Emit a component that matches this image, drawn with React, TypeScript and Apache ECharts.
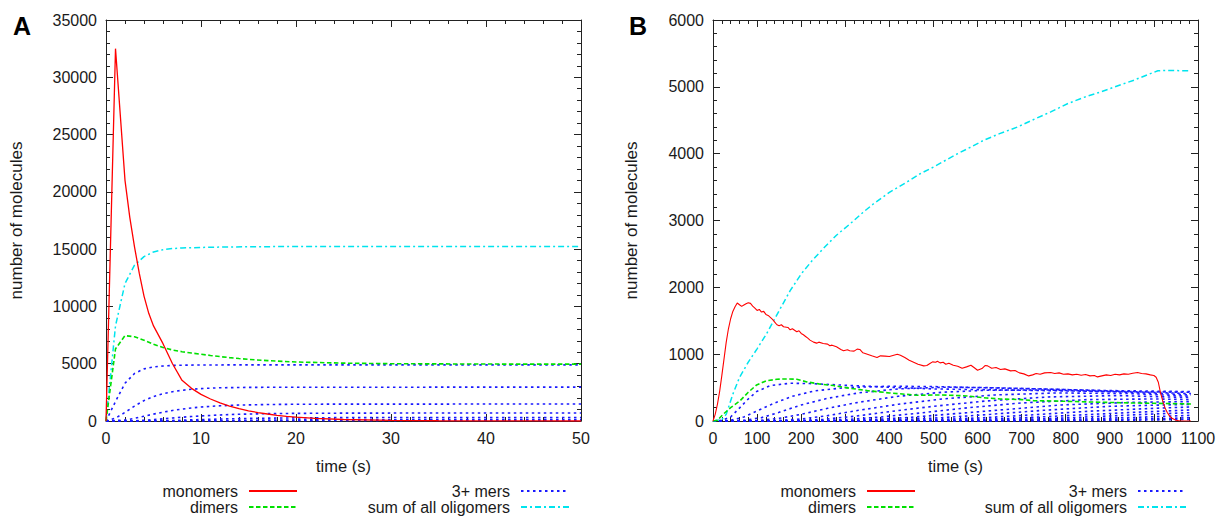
import React, { useEffect, useRef } from "react";
import * as echarts from "echarts";

type P = [number, number];

// ---------- Panel A (0–50 s) ----------
const monomersA: P[] = [
  [0, 0], [1, 32500], [2, 21000], [2.5, 17800], [3, 15200], [3.5, 12900], [4, 10900], [4.5, 9400],
  [5, 8300], [6, 6750], [7, 5000], [8, 3550], [9, 2850], [10, 2320], [11, 1920], [12, 1580],
  [13, 1300], [14, 1080], [15, 890], [16, 740], [17, 610], [18, 500], [19, 410], [20, 340],
  [22, 230], [25, 130], [30, 50], [35, 20], [40, 8], [45, 3], [50, 0],
];
const dimersA: P[] = [
  [0, 0], [1, 6300], [2, 7450], [3, 7350], [4, 7050], [5, 6700], [6, 6420], [7, 6200], [8, 6050],
  [9, 5930], [10, 5830], [11, 5720], [12, 5620], [13, 5530], [14, 5450], [15, 5380], [17, 5270],
  [20, 5150], [25, 5050], [30, 5000], [40, 4970], [50, 4960],
];
const sumA: P[] = [
  [0, 0], [1, 8300], [2, 12000], [3, 13600], [4, 14350], [5, 14750], [6, 14950], [7, 15050],
  [8, 15100], [10, 15150], [12, 15180], [15, 15210], [20, 15230], [30, 15240], [50, 15240],
];
const trimersA: P[] = [
  [0, 0], [1, 1700], [2, 3300], [3, 4150], [4, 4550], [5, 4720], [6, 4800], [7, 4850], [8, 4870],
  [10, 4890], [15, 4900], [50, 4900],
];
const tetramersA: P[] = [
  [0, 0], [1, 250], [2, 750], [3, 1300], [4, 1780], [5, 2130], [6, 2380], [7, 2560], [8, 2680],
  [9, 2770], [10, 2830], [12, 2900], [15, 2935], [20, 2950], [50, 2955],
];
const pentamersA: P[] = [
  [0, 0], [2, 80], [3, 230], [4, 420], [5, 600], [6, 770], [7, 920], [8, 1040], [9, 1140],
  [10, 1220], [12, 1330], [14, 1390], [17, 1440], [20, 1460], [25, 1475], [50, 1480],
];
const hexamersA: P[] = [
  [0, 0], [3, 20], [4, 60], [5, 120], [6, 190], [7, 260], [8, 330], [9, 390], [10, 440],
  [12, 530], [14, 590], [17, 640], [20, 665], [25, 685], [30, 692], [50, 697],
];
const heptamersA: P[] = [
  [0, 0], [5, 15], [7, 50], [9, 100], [11, 150], [13, 195], [16, 240], [20, 275], [25, 295],
  [35, 305], [50, 308],
];
const octamersA: P[] = [
  [0, 0], [7, 5], [10, 20], [13, 45], [16, 70], [20, 95], [25, 110], [35, 120], [50, 122],
];
const nonamersA: P[] = [
  [0, 0], [10, 3], [14, 12], [18, 22], [24, 32], [35, 40], [50, 42],
];
const higherA: P[][] = [trimersA, tetramersA, pentamersA, hexamersA, heptamersA, octamersA, nonamersA];

// ---------- Panel B (0–1100 s) ----------
const monomersB: P[] = [
  [0, 0], [5, 100], [10, 250], [15, 440], [20, 680], [25, 930], [30, 1180], [35, 1380], [40, 1530],
  [45, 1640], [50, 1710], [55, 1765], [60, 1740], [65, 1715], [70, 1735], [75, 1755], [80, 1770],
  [85, 1760], [90, 1720], [95, 1690], [100, 1655], [105, 1670], [110, 1630], [115, 1640], [120, 1595],
  [125, 1580], [130, 1550], [135, 1520], [140, 1480], [145, 1440], [150, 1425], [155, 1440],
  [160, 1410], [170, 1400], [175, 1365], [180, 1380], [190, 1335], [195, 1350], [200, 1310],
  [205, 1290], [210, 1265], [215, 1240], [220, 1210], [228, 1180], [235, 1165], [240, 1180],
  [250, 1160], [260, 1150], [265, 1125], [270, 1135], [280, 1110], [290, 1070], [296, 1050],
  [305, 1065], [310, 1050], [320, 1045], [327, 1075], [333, 1070], [340, 1020], [350, 1000],
  [360, 975], [372, 950], [380, 975], [390, 970], [400, 965], [410, 985], [418, 1000], [425, 985],
  [435, 950], [445, 910], [455, 880], [465, 850], [478, 825], [485, 830], [492, 860], [498, 885],
  [505, 880], [509, 895], [515, 870], [522, 880], [528, 850], [535, 865], [545, 835], [555, 820],
  [565, 790], [575, 810], [585, 835], [592, 800], [600, 760], [610, 785], [617, 830], [623, 825],
  [632, 790], [642, 800], [652, 770], [662, 780], [675, 750], [685, 755], [695, 720], [705, 705],
  [716, 675], [725, 690], [733, 710], [742, 700], [752, 720], [766, 725], [775, 710], [785, 720],
  [795, 700], [805, 705], [815, 690], [825, 700], [835, 685], [845, 695], [855, 675], [865, 680],
  [872, 660], [882, 675], [892, 690], [902, 680], [912, 700], [922, 690], [932, 705], [942, 700],
  [952, 715], [963, 725], [972, 710], [982, 705], [992, 690], [1000, 680], [1005, 655], [1010, 580],
  [1015, 420], [1020, 300], [1025, 200], [1030, 130], [1035, 80], [1040, 45], [1050, 12],
  [1060, 0], [1084, 0],
];
const dimersB: P[] = [
  [0, 0], [10, 10], [23, 100], [40, 200], [61, 300], [80, 430], [99, 540], [120, 600], [145, 625],
  [170, 630], [190, 625], [213, 585], [240, 555], [273, 530], [310, 490], [350, 455], [400, 420],
  [464, 385], [520, 390], [577, 375], [620, 345], [652, 330], [700, 320], [727, 305], [800, 295],
  [880, 280], [950, 270], [1000, 265], [1084, 255],
];
const sumB: P[] = [
  [0, 0], [20, 20], [30, 100], [45, 400], [60, 650], [80, 880], [100, 1080], [121, 1300],
  [150, 1650], [175, 1950], [200, 2200], [225, 2400], [250, 2580], [280, 2780], [311, 2950],
  [340, 3120], [364, 3250], [400, 3420], [441, 3580], [470, 3700], [500, 3800], [530, 3910],
  [555, 4000], [585, 4100], [614, 4200], [650, 4300], [691, 4400], [730, 4520], [766, 4625],
  [805, 4750], [840, 4840], [880, 4925], [920, 5020], [955, 5100], [985, 5180], [1009, 5240],
  [1030, 5245], [1084, 5240],
];
const b3: P[] = [[0, 0], [20, 10], [40, 60], [61, 200], [80, 330], [99, 440], [130, 530], [175, 565], [220, 560], [300, 535], [400, 505], [500, 480], [600, 470], [700, 460], [800, 450], [900, 440], [1000, 435], [1084, 430]];
const b4: P[] = [[0, 0], [40, 10], [70, 60], [100, 150], [140, 270], [180, 370], [230, 450], [300, 500], [400, 520], [500, 515], [600, 500], [700, 485], [800, 470], [900, 455], [1084, 440]];
const b5: P[] = [[0, 0], [70, 10], [110, 50], [150, 130], [200, 240], [260, 340], [330, 420], [420, 480], [520, 505], [620, 500], [750, 480], [900, 450], [1084, 410]];
const b6: P[] = [[0, 0], [100, 5], [150, 40], [200, 100], [260, 190], [330, 280], [420, 370], [520, 430], [620, 460], [750, 465], [900, 440], [1084, 390]];
const b7: P[] = [[0, 0], [140, 5], [200, 30], [260, 80], [330, 160], [420, 250], [520, 330], [640, 390], [780, 420], [950, 410], [1084, 370]];
const b8: P[] = [[0, 0], [180, 5], [250, 25], [320, 70], [400, 140], [500, 220], [620, 300], [760, 360], [920, 380], [1084, 350]];
const b9: P[] = [[0, 0], [230, 5], [300, 20], [380, 60], [470, 120], [580, 200], [700, 270], [850, 320], [1000, 330], [1084, 320]];
const b10: P[] = [[0, 0], [280, 5], [360, 20], [450, 55], [550, 110], [660, 170], [790, 240], [950, 280], [1084, 290]];
const b11: P[] = [[0, 0], [330, 4], [420, 18], [520, 50], [630, 100], [750, 160], [900, 220], [1084, 250]];
const b12: P[] = [[0, 0], [390, 4], [490, 16], [600, 45], [720, 90], [850, 145], [1000, 190], [1084, 210]];
const b13: P[] = [[0, 0], [450, 3], [560, 14], [680, 40], [800, 80], [940, 125], [1084, 165]];
const b14: P[] = [[0, 0], [520, 3], [640, 12], [760, 35], [880, 70], [1000, 105], [1084, 125]];
const b15: P[] = [[0, 0], [600, 3], [720, 10], [840, 30], [960, 55], [1084, 85]];
const b16: P[] = [[0, 0], [680, 2], [800, 8], [920, 22], [1040, 40], [1084, 50]];
const b17: P[] = [[0, 0], [760, 2], [880, 7], [1000, 16], [1084, 25]];
const higherB: P[][] = [b3, b4, b5, b6, b7, b8, b9, b10, b11, b12, b13, b14, b15, b16, b17];

// ---------- axes ----------
const xTicksA = { min: 0, max: 50, interval: 10 };
const yTicksA = { min: 0, max: 35000, interval: 5000 };
const xTicksB = { min: 0, max: 1100, interval: 100 };
const yTicksB = { min: 0, max: 6000, interval: 1000 };

const NAMES = { mono: "monomers", di: "dimers", hi: "3+ mers", sum: "sum of all oligomers" };
const X_TITLE = "time (s)";
const Y_TITLE = "number of molecules";

const FONT = "'Liberation Sans', Arial, Helvetica, sans-serif";
const TXT = "#1a1a1a";
const AX = "#222";

const RED = "#ff0000";
const GREEN = "#00e000";
const BLUE = "#1a1aff";
const CYAN = "#00e4ee";

const X_NAME_STYLE = { fontSize: 16.5, color: TXT, fontFamily: FONT };
const Y_NAME_STYLE = { fontSize: 17, color: TXT, fontFamily: FONT };

function axisBase(t: { min: number; max: number; interval: number }, gridIndex: number) {
  return {
    type: "value" as const,
    gridIndex,
    min: t.min,
    max: t.max,
    interval: t.interval,
    splitLine: { show: false },
    axisLine: { show: true, onZero: false, lineStyle: { color: AX, width: 1 } },
    axisTick: { show: true, inside: true, length: 7, lineStyle: { color: AX } },
    minorTick: { show: true, splitNumber: 5, length: 4, lineStyle: { color: AX } },
    axisLabel: {
      show: true, fontSize: 16, color: TXT, fontFamily: FONT, margin: 9,
      formatter: (v: number) => String(v),
    },
    nameMoveOverlap: false,
  };
}

function mkLine(name: string, data: P[], color: string, dash: any, width: number, idx: number, z = 2) {
  return {
    type: "line" as const,
    name,
    data,
    xAxisIndex: idx,
    yAxisIndex: idx,
    symbol: "none",
    showSymbol: false,
    smooth: false,
    silent: true,
    z,
    lineStyle: { color, width, type: dash },
    itemStyle: { color },
  };
}

function legendAt(names: string[], right: number) {
  return {
    data: names,
    orient: "vertical" as const,
    align: "right" as const,
    right,
    top: 483,
    bottom: 0,
    padding: 0,
    itemGap: 0,
    itemWidth: 48,
    itemHeight: 16,
    selectedMode: false,
    itemStyle: { color: "transparent", borderColor: "transparent", borderWidth: 0, opacity: 0 },
    textStyle: { fontSize: 16, color: TXT, fontFamily: FONT, lineHeight: 16, padding: [0, 6, 0, 0] },
  };
}

export default function App() {
  const ref = useRef<HTMLDivElement>(null);
  useEffect(() => {
    if (!ref.current) return;
    const chart = echarts.init(ref.current, null, { renderer: "svg" });

    const xA = axisBase(xTicksA, 0);
    const yA = axisBase(yTicksA, 0);
    const xB = axisBase(xTicksB, 1);
    const yB = axisBase(yTicksB, 1);

    const dotted = [2.5, 3.5];
    const dashed = [4.5, 2.5];
    const dashDot = [6, 3, 2, 3];

    const series: any[] = [];
    // Panel A
    higherA.forEach((d) => series.push(mkLine(NAMES.hi, d, BLUE, dotted, 1.6, 0, 1)));
    series.push(mkLine(NAMES.sum, sumA, CYAN, dashDot, 1.5, 0, 2));
    series.push(mkLine(NAMES.di, dimersA, GREEN, dashed, 1.6, 0, 3));
    series.push(mkLine(NAMES.mono, monomersA, RED, "solid", 1.3, 0, 4));
    // Panel B
    higherB.forEach((d) => series.push(mkLine(NAMES.hi, d, BLUE, dotted, 1.6, 2, 1)));
    series.push(mkLine(NAMES.sum, sumB, CYAN, dashDot, 1.5, 2, 2));
    series.push(mkLine(NAMES.di, dimersB, GREEN, dashed, 1.6, 2, 3));
    series.push(mkLine(NAMES.mono, monomersB, RED, "solid", 1.1, 2, 4));

    chart.setOption({
      animation: false,
      backgroundColor: "#ffffff",
      textStyle: { fontFamily: FONT },
      title: [
        { text: "A", left: 8, top: 8, textStyle: { fontSize: 25, fontWeight: "bold", color: "#000", fontFamily: FONT } },
        { text: "B", left: 624, top: 8, textStyle: { fontSize: 25, fontWeight: "bold", color: "#000", fontFamily: FONT } },
      ],
      grid: [
        { left: 106, top: 20, width: 475, height: 401, outerBoundsMode: "none", containLabel: false },
        { left: 713, top: 20, width: 485, height: 401, outerBoundsMode: "none", containLabel: false },
      ],
      xAxis: [
        { ...xA, position: "bottom", name: X_TITLE, nameLocation: "middle", nameGap: 36, nameTextStyle: X_NAME_STYLE },
        { ...xA, position: "top", axisLabel: { show: false } },
        { ...xB, position: "bottom", name: X_TITLE, nameLocation: "middle", nameGap: 36, nameTextStyle: X_NAME_STYLE },
        { ...xB, position: "top", axisLabel: { show: false } },
      ],
      yAxis: [
        { ...yA, position: "left", name: Y_TITLE, nameLocation: "middle", nameGap: 81, nameTextStyle: Y_NAME_STYLE },
        { ...yA, position: "right", axisLabel: { show: false } },
        { ...yB, position: "left", name: Y_TITLE, nameLocation: "middle", nameGap: 73, nameTextStyle: Y_NAME_STYLE },
        { ...yB, position: "right", axisLabel: { show: false } },
      ],
      legend: [
        legendAt([NAMES.mono, NAMES.di], 1228 - 298),
        legendAt([NAMES.hi, NAMES.sum], 1228 - 570),
        legendAt([NAMES.mono, NAMES.di], 1228 - 916),
        legendAt([NAMES.hi, NAMES.sum], 1228 - 1187),
      ],
      series,
    });
    return () => chart.dispose();
  }, []);
  return <div ref={ref} style={{ position: "fixed", left: 0, top: 0, width: 1228, height: 517 }} />;
}
